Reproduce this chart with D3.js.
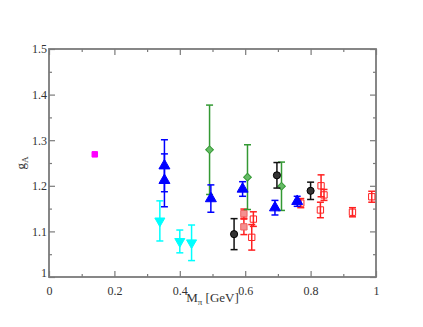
<!DOCTYPE html>
<html>
<head>
<meta charset="utf-8">
<script src="https://cdn.jsdelivr.net/npm/d3@7"></script>
<style>
  body { margin: 0; background: #fff; }
  text { font-family: "Liberation Serif", "DejaVu Serif", serif; fill: #333; }
</style>
</head>
<body>
<div id="chart"></div>
<script>
// data: [M_pi, g_A, error]
var magentaPts = [[0.14, 1.269, 0.0]];
var bluePts = [
  [0.353, 1.244, 0.057],
  [0.353, 1.212, 0.058],
  [0.495, 1.172, 0.030],
  [0.592, 1.193, 0.016],
  [0.691, 1.152, 0.016],
  [0.759, 1.166, 0.011]
];
var cyanPts = [
  [0.339, 1.123, 0.044],
  [0.400, 1.078, 0.025],
  [0.436, 1.075, 0.039]
];
var greenPts = [
  [0.491, 1.279, 0.098],
  [0.607, 1.219, 0.071],
  [0.711, 1.199, 0.053]
];
var blackPts = [
  [0.566, 1.094, 0.034],
  [0.697, 1.223, 0.028],
  [0.800, 1.189, 0.019]
];
var redFilledPts = [
  [0.596, 1.139, 0.010],
  [0.596, 1.110, 0.017]
];
var redOpenPts = [
  [0.625, 1.127, 0.016],
  [0.620, 1.087, 0.028],
  [0.770, 1.162, 0.010],
  [0.832, 1.200, 0.024],
  [0.841, 1.180, 0.012],
  [0.830, 1.147, 0.017],
  [0.928, 1.142, 0.010],
  [0.987, 1.176, 0.012]
];

var xTicks = [0, 0.2, 0.4, 0.6, 0.8, 1];
var yTicks = [1, 1.1, 1.2, 1.3, 1.4, 1.5];

var WIDTH = 423, HEIGHT = 327;
var margin = {left: 49, right: 47, top: 49, bottom: 50};
var FRAME = "#7a7a7a";
var SERIF = "Liberation Serif, DejaVu Serif, serif";

var svg = d3.select("#chart").append("svg")
  .attr("width", WIDTH)
  .attr("height", HEIGHT);

var x = d3.scaleLinear().domain([0, 1]).range([margin.left, WIDTH - margin.right]);
var y = d3.scaleLinear().domain([1, 1.5]).range([HEIGHT - margin.bottom, margin.top]);

var fmt = function(d) { return d3.format("")(+d.toFixed(1)); };

// inward ticks on all four sides, minor ones in between
function axisPair(axisFn, scale, major, minor, transform) {
  svg.append("g").attr("transform", transform)
    .call(axisFn(scale).tickValues(minor).tickSize(3).tickFormat(""))
    .call(function(g) { g.select(".domain").remove(); });
  return svg.append("g").attr("transform", transform)
    .call(axisFn(scale).tickValues(major).tickSize(6).tickFormat(fmt))
    .attr("font-family", SERIF)
    .attr("font-size", 12)
    .call(function(g) { g.select(".domain").remove(); });
}

var xMinor = d3.range(0.1, 1, 0.2);
var yMinor = d3.range(1.05, 1.5, 0.1);

var xb = axisPair(d3.axisTop, x, xTicks, xMinor, "translate(0," + y(1) + ")");
xb.selectAll("text").attr("dy", null).attr("y", 18);
var xt = axisPair(d3.axisBottom, x, xTicks, xMinor, "translate(0," + y(1.5) + ")");
xt.selectAll("text").remove();
var yl = axisPair(d3.axisRight, y, yTicks, yMinor, "translate(" + x(0) + ",0)");
yl.selectAll("text").attr("x", -2).attr("text-anchor", "end");
var yr = axisPair(d3.axisLeft, y, yTicks, yMinor, "translate(" + x(1) + ",0)");
yr.selectAll("text").remove();

svg.selectAll(".tick line").attr("stroke", FRAME).attr("stroke-width", 1.2);
svg.selectAll(".tick text").attr("fill", "#333");

// the "1" at the origin sits a bit higher like in the original
yl.selectAll(".tick text").filter(function(d) { return d === 1; }).attr("dy", "-0.05em");

svg.append("rect")
  .attr("x", x(0)).attr("y", y(1.5))
  .attr("width", x(1) - x(0)).attr("height", y(1) - y(1.5))
  .attr("fill", "none").attr("stroke", FRAME).attr("stroke-width", 1.8);

// axis titles
var xl = svg.append("text")
  .attr("x", x(0.5)).attr("y", 302)
  .attr("text-anchor", "middle").attr("font-size", 13);
xl.append("tspan").text("M");
xl.append("tspan").attr("font-size", 9).attr("dy", 3).text("\u03c0");
xl.append("tspan").attr("dy", -3).text(" [GeV]");

var ylab = svg.append("text")
  .attr("transform", "translate(25," + y(1.25) + ") rotate(-90)")
  .attr("text-anchor", "middle").attr("font-size", 13);
ylab.append("tspan").text("g");
ylab.append("tspan").attr("font-size", 9).attr("dy", 3).text("A");

// error bars with caps
function errorBars(data, color, width) {
  var g = svg.append("g").attr("stroke", color).attr("stroke-width", width || 1.5);
  data.forEach(function(d) {
    if (!d[2]) return;
    var cx = x(d[0]), top = y(d[1] + d[2]), bot = y(d[1] - d[2]);
    g.append("line").attr("x1", cx).attr("x2", cx).attr("y1", top).attr("y2", bot);
    g.append("line").attr("x1", cx - 3.5).attr("x2", cx + 3.5).attr("y1", top).attr("y2", top);
    g.append("line").attr("x1", cx - 3.5).attr("x2", cx + 3.5).attr("y1", bot).attr("y2", bot);
  });
}

function symbols(data, type, size, fill, stroke, rotate) {
  svg.append("g").selectAll("path")
    .data(data)
    .enter()
    .append("path")
      .attr("d", d3.symbol().type(type).size(size))
      .attr("transform", function(d) {
        return "translate(" + x(d[0]) + "," + y(d[1]) + ")" + (rotate ? " rotate(" + rotate + ")" : "");
      })
      .attr("fill", fill)
      .attr("stroke", stroke)
      .attr("stroke-width", 1);
}

// magenta
symbols(magentaPts, d3.symbolSquare, 30, "#ff00ff", "#ff00ff");

// red (filled and open squares)
errorBars(redFilledPts, "#ff2020");
symbols(redFilledPts, d3.symbolSquare, 40, "#f49090", "#f06060");
symbols(redOpenPts, d3.symbolSquare, 40, "#fff", "#ff2020");
errorBars(redOpenPts, "#ff2020");

// cyan down triangles
errorBars(cyanPts, "#00ffff");
symbols(cyanPts, d3.symbolTriangle, 44, "#00ffff", "#00ffff", 180);

// green diamonds
errorBars(greenPts, "#339933");
symbols(greenPts, d3.symbolSquare, 30, "#66bb66", "#339933", 45);

// blue up triangles
errorBars(bluePts, "#0000ff");
symbols(bluePts, d3.symbolTriangle, 52, "#0000ff", "#0000ff");

// black circles
errorBars(blackPts, "#111");
symbols(blackPts, d3.symbolCircle, 40, "#333", "#000");
</script>
</body>
</html>
